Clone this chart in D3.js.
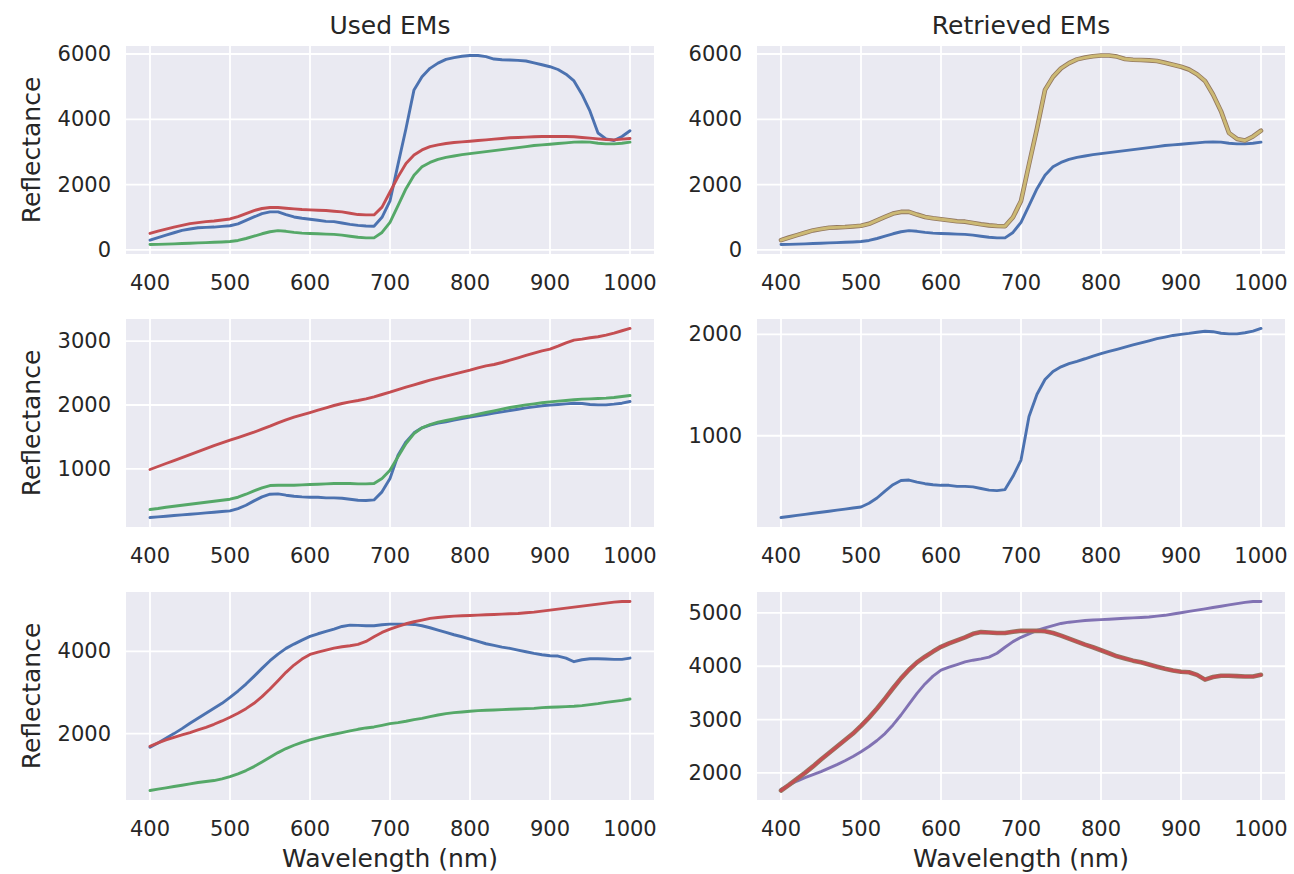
<!DOCTYPE html>
<html>
<head>
<meta charset="utf-8">
<script src="https://cdn.jsdelivr.net/npm/d3@7/dist/d3.min.js"></script>
<style>
  body { margin: 0; background: #fff; }
  text { font-family: "DejaVu Sans", sans-serif; fill: #262626; }
</style>
</head>
<body>
<svg id="chart" width="1294" height="874"></svg>
<script>
// wavelength samples (nm)
const wavelengths = [400, 410, 420, 430, 440, 450, 460, 470, 480, 490,
  500, 510, 520, 530, 540, 550, 560, 570, 580, 590,
  600, 610, 620, 630, 640, 650, 660, 670, 680, 690,
  700, 710, 720, 730, 740, 750, 760, 770, 780, 790,
  800, 810, 820, 830, 840, 850, 860, 870, 880, 890,
  900, 910, 920, 930, 940, 950, 960, 970, 980, 990, 1000]

// row 1, used endmembers
const used1Blue = [300, 380, 454, 526, 598, 640, 680, 690, 700, 720,
  740, 800, 907, 1010, 1113, 1165, 1165, 1083, 1010, 969,
  938, 907, 876, 866, 825, 784, 752, 732, 725, 1000,
  1500, 2620, 3720, 4900, 5300, 5560, 5720, 5835, 5890, 5930,
  5955, 5955, 5920, 5845, 5825, 5815, 5805, 5785, 5730, 5670,
  5610, 5525, 5380, 5175, 4760, 4250, 3580, 3400, 3350, 3475, 3650]
const used1Red = [505, 577, 640, 700, 752, 804, 835, 866, 887, 917,
  948, 1020, 1113, 1206, 1268, 1300, 1300, 1278, 1258, 1237,
  1227, 1217, 1206, 1186, 1165, 1124, 1083, 1072, 1072, 1310,
  1773, 2237, 2650, 2907, 3062, 3165, 3217, 3258, 3289, 3310,
  3330, 3350, 3370, 3392, 3412, 3433, 3443, 3454, 3464, 3475,
  3475, 3475, 3475, 3464, 3443, 3423, 3400, 3380, 3370, 3392, 3412]
const used1Green = [165, 170, 178, 186, 195, 205, 215, 225, 235, 245,
  260, 290, 350, 420, 495, 557, 590, 570, 536, 515,
  505, 495, 485, 475, 455, 420, 390, 370, 370, 536,
  845, 1360, 1876, 2290, 2546, 2680, 2773, 2835, 2876, 2918,
  2950, 2980, 3010, 3041, 3072, 3103, 3134, 3165, 3196, 3217,
  3237, 3258, 3278, 3300, 3310, 3300, 3268, 3248, 3248, 3268, 3300]

// row 2, used endmembers
const used2Red = [990, 1037, 1084, 1130, 1177, 1224, 1270, 1318, 1365, 1407,
  1449, 1490, 1532, 1574, 1621, 1668, 1720, 1767, 1809, 1846,
  1882, 1919, 1955, 1992, 2023, 2049, 2070, 2096, 2128, 2164,
  2200, 2242, 2279, 2315, 2352, 2389, 2420, 2451, 2483, 2514,
  2545, 2582, 2613, 2634, 2665, 2702, 2738, 2775, 2811, 2848,
  2874, 2921, 2973, 3015, 3031, 3052, 3068, 3094, 3125, 3162, 3198]
const used2Green = [363, 379, 400, 415, 431, 447, 462, 478, 494, 509,
  525, 556, 603, 655, 702, 739, 744, 744, 744, 750,
  755, 760, 765, 770, 770, 770, 765, 765, 770, 849,
  979, 1188, 1397, 1553, 1642, 1694, 1731, 1757, 1783, 1809,
  1830, 1856, 1882, 1908, 1934, 1960, 1981, 2002, 2018, 2034,
  2049, 2060, 2070, 2081, 2091, 2096, 2101, 2107, 2117, 2133, 2148]
const used2Blue = [238, 248, 259, 269, 280, 290, 300, 311, 321, 332,
  342, 379, 431, 499, 562, 603, 608, 588, 572, 562,
  556, 556, 546, 546, 541, 525, 509, 504, 514, 640,
  850, 1214, 1423, 1564, 1642, 1684, 1715, 1736, 1762, 1788,
  1809, 1830, 1851, 1872, 1893, 1914, 1934, 1955, 1971, 1987,
  1997, 2007, 2018, 2028, 2023, 2007, 2002, 2002, 2013, 2028, 2054]

// row 3, used endmembers
const used3Blue = [1668, 1773, 1887, 2000, 2121, 2251, 2372, 2494, 2615, 2737,
  2883, 3036, 3206, 3393, 3587, 3773, 3935, 4073, 4178, 4275,
  4364, 4429, 4486, 4542, 4607, 4640, 4632, 4624, 4624, 4648,
  4664, 4664, 4664, 4656, 4624, 4575, 4518, 4462, 4405, 4356,
  4300, 4243, 4186, 4146, 4105, 4073, 4032, 3992, 3951, 3919,
  3895, 3887, 3838, 3749, 3797, 3822, 3822, 3814, 3806, 3806, 3838]
const used3Red = [1692, 1773, 1846, 1911, 1968, 2024, 2089, 2154, 2227, 2308,
  2397, 2494, 2607, 2737, 2899, 3085, 3287, 3490, 3668, 3814,
  3927, 3984, 4032, 4081, 4113, 4138, 4170, 4243, 4356, 4462,
  4542, 4607, 4672, 4721, 4761, 4802, 4826, 4842, 4858, 4866,
  4874, 4882, 4890, 4899, 4907, 4915, 4923, 4939, 4955, 4980,
  5004, 5028, 5053, 5077, 5101, 5126, 5150, 5174, 5198, 5215, 5215]
const used3Green = [615, 648, 680, 713, 745, 777, 810, 834, 858, 899,
  955, 1020, 1101, 1198, 1312, 1425, 1538, 1636, 1717, 1789,
  1846, 1895, 1943, 1984, 2024, 2065, 2105, 2138, 2162, 2202,
  2243, 2267, 2300, 2340, 2372, 2413, 2453, 2486, 2510, 2526,
  2543, 2559, 2567, 2575, 2583, 2591, 2599, 2607, 2615, 2632,
  2640, 2648, 2656, 2664, 2680, 2705, 2729, 2761, 2785, 2810, 2842]

// retrieved endmembers
const retrieved1Gold = used1Blue
const retrieved1Blue = used1Green
const retrieved2Blue = [193, 203, 214, 224, 235, 245, 255, 266, 276, 287,
  297, 334, 386, 454, 517, 558, 563, 543, 527, 517,
  511, 511, 501, 501, 496, 480, 464, 459, 469, 600,
  760, 1190, 1410, 1555, 1635, 1680, 1712, 1735, 1760, 1787,
  1810, 1832, 1853, 1875, 1896, 1917, 1937, 1958, 1974, 1990,
  2000, 2010, 2022, 2032, 2027, 2012, 2006, 2006, 2017, 2033, 2059]
const retrieved3Red = used3Blue
const retrieved3Purple = used3Red

// tick labels
const xTicks = [400, 500, 600, 700, 800, 900, 1000]
const yTicks1 = [0, 2000, 4000, 6000]
const yTicks2Left = [1000, 2000, 3000]
const yTicks2Right = [1000, 2000]
const yTicks3Left = [2000, 4000]
const yTicks3Right = [2000, 3000, 4000, 5000]

const columnTitles = ['Used EMs', 'Retrieved EMs']

const deep = {
  blue: '#4C72B0', green: '#55A868', red: '#C44E52',
  purple: '#8172B3', olive: '#CCB974', brown: '#937860'
}

const panels = [
  { col: 0, row: 0, ticks: yTicks1, lines: [
    { v: used1Blue, c: deep.blue }, { v: used1Red, c: deep.red }, { v: used1Green, c: deep.green }] },
  { col: 1, row: 0, ticks: yTicks1, lines: [
    { v: retrieved1Blue, c: deep.blue }, { v: retrieved1Gold, c: deep.brown, w: 4.6 }, { v: retrieved1Gold, c: deep.olive }] },
  { col: 0, row: 1, ticks: yTicks2Left, lines: [
    { v: used2Blue, c: deep.blue }, { v: used2Red, c: deep.red }, { v: used2Green, c: deep.green }] },
  { col: 1, row: 1, ticks: yTicks2Right, lines: [
    { v: retrieved2Blue, c: deep.blue }] },
  { col: 0, row: 2, ticks: yTicks3Left, lines: [
    { v: used3Blue, c: deep.blue }, { v: used3Red, c: deep.red }, { v: used3Green, c: deep.green }] },
  { col: 1, row: 2, ticks: yTicks3Right, lines: [
    { v: retrieved3Purple, c: deep.purple }, { v: retrieved3Red, c: deep.brown, w: 4.6 }, { v: retrieved3Red, c: deep.red }] }
]

const svg = d3.select('#chart')
const colX = [126, 757]
const rowY = [46, 319, 592]
const pw = 528
const ph = 208

// matplotlib style 5% margins
function padded (ext) {
  const m = (ext[1] - ext[0]) * 0.05
  return [ext[0] - m, ext[1] + m]
}

const x = d3.scaleLinear().domain(padded(d3.extent(wavelengths))).range([0, pw])

panels.forEach(p => {
  const g = svg.append('g').attr('transform', `translate(${colX[p.col]},${rowY[p.row]})`)
  const all = p.lines.flatMap(l => l.v)
  const y = d3.scaleLinear().domain(padded(d3.extent(all))).range([ph, 0])

  g.append('rect').attr('width', pw).attr('height', ph).attr('fill', '#EAEAF2')

  g.selectAll('.gx').data(xTicks).join('line')
    .attr('x1', d => x(d)).attr('x2', d => x(d))
    .attr('y1', 0).attr('y2', ph)
    .attr('stroke', '#fff').attr('stroke-width', 1.8)
  g.selectAll('.gy').data(p.ticks).join('line')
    .attr('x1', 0).attr('x2', pw)
    .attr('y1', d => y(d)).attr('y2', d => y(d))
    .attr('stroke', '#fff').attr('stroke-width', 1.8)

  const line = d3.line().x((d, i) => x(wavelengths[i])).y(d => y(d))
  p.lines.forEach(l => {
    g.append('path').datum(l.v)
      .attr('d', line)
      .attr('fill', 'none')
      .attr('stroke', l.c)
      .attr('stroke-width', l.w || 2.9)
      .attr('stroke-linejoin', 'round')
      .attr('stroke-linecap', 'round')
  })

  // tick labels
  g.selectAll('.tx').data(xTicks).join('text')
    .attr('x', d => x(d)).attr('y', ph + 36)
    .attr('text-anchor', 'middle')
    .style('font-size', '21px')
    .text(d => d)
  g.selectAll('.ty').data(p.ticks).join('text')
    .attr('x', -15).attr('y', d => y(d))
    .attr('text-anchor', 'end')
    .attr('dominant-baseline', 'central')
    .style('font-size', '21px')
    .text(d => d)

  if (p.col === 0) {
    g.append('text')
      .attr('transform', `translate(-86,${ph / 2}) rotate(-90)`)
      .attr('text-anchor', 'middle')
      .style('font-size', '25px')
      .text('Reflectance')
  }
  if (p.row === 0) {
    g.append('text')
      .attr('x', pw / 2).attr('y', -12)
      .attr('text-anchor', 'middle')
      .style('font-size', '25px')
      .text(columnTitles[p.col])
  }
  if (p.row === 2) {
    g.append('text')
      .attr('x', pw / 2).attr('y', ph + 67)
      .attr('text-anchor', 'middle')
      .style('font-size', '25px')
      .text('Wavelength (nm)')
  }
})
</script>
</body>
</html>
